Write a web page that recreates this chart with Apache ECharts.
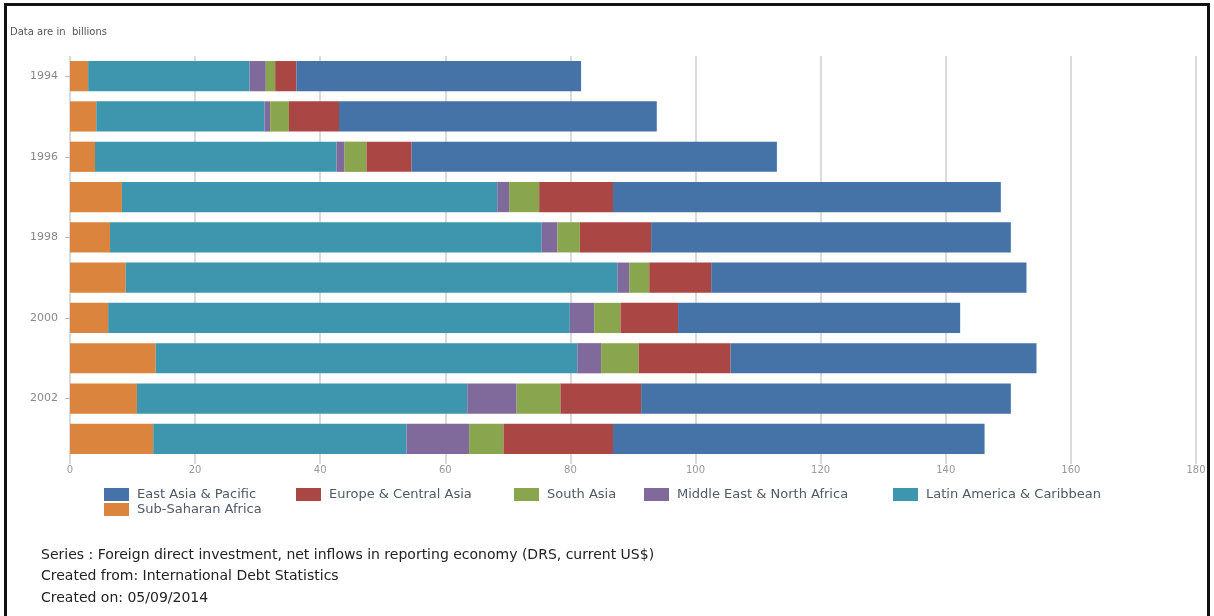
<!DOCTYPE html>
<html>
<head>
<meta charset="utf-8">
<title>Foreign direct investment, net inflows by region</title>
<script src="https://cdn.jsdelivr.net/npm/echarts@6/dist/echarts.min.js"></script>
<style>
  html, body { margin: 0; padding: 0; background: #fff; }
  #frame {
    position: absolute; left: 4px; top: 3px; width: 1206px; height: 620px;
    border: 3px solid #111; border-bottom: none; box-sizing: border-box;
  }
  #chart { position: absolute; left: 0; top: 0; width: 1214px; height: 616px; }
</style>
</head>
<body>
<div id="frame"></div>
<div id="chart"></div>
<script>
// Net FDI inflows by developing region, US$ billions
const years = ['1994', '1995', '1996', '1997', '1998', '1999', '2000', '2001', '2002', '2003'];

const eastAsiaPacific       = [45.5, 50.8, 58.4, 62.0, 57.5, 50.4, 45.1, 48.9, 59.1, 59.4];
const europeCentralAsia     = [3.4, 8.0, 7.2, 11.8, 11.4, 9.9, 9.2, 14.7, 12.9, 17.5];
const southAsia             = [1.5, 3.0, 3.5, 4.8, 3.6, 3.2, 4.2, 6.0, 7.0, 5.5];
const middleEastNorthAfrica = [2.6, 0.9, 1.3, 1.9, 2.5, 1.9, 3.9, 3.8, 7.9, 10.0];
const latinAmericaCaribbean = [25.8, 26.9, 38.6, 60.0, 69.0, 78.6, 73.8, 67.4, 52.8, 40.5];
const subSaharanAfrica      = [2.9, 4.2, 4.0, 8.3, 6.4, 8.9, 6.1, 13.7, 10.7, 13.3];

const xMin = 0, xMax = 180, xStep = 20;

const regionNames = [
  'East Asia & Pacific',
  'Europe & Central Asia',
  'South Asia',
  'Middle East & North Africa',
  'Latin America & Caribbean',
  'Sub-Saharan Africa'
];

const footerLines = [
  'Series : Foreign direct investment, net inflows in reporting economy (DRS, current US$)',
  'Created from: International Debt Statistics',
  'Created on: 05/09/2014'
];

const FONT = '"DejaVu Sans", "Liberation Sans", Arial, sans-serif';

// stacking order: left-most segment first
const stacks = [
  { name: 'Sub-Saharan Africa',         data: subSaharanAfrica,      color: '#DB843D' },
  { name: 'Latin America & Caribbean',  data: latinAmericaCaribbean, color: '#3D96AE' },
  { name: 'Middle East & North Africa', data: middleEastNorthAfrica, color: '#80699B' },
  { name: 'South Asia',                 data: southAsia,             color: '#89A54E' },
  { name: 'Europe & Central Asia',      data: europeCentralAsia,     color: '#AA4643' },
  { name: 'East Asia & Pacific',        data: eastAsiaPacific,       color: '#4572A7' }
];

// one legend block per region so each swatch sits where it belongs
const legendSpots = [
  { left: 104, top: 488 },
  { left: 296, top: 488 },
  { left: 514, top: 488 },
  { left: 644, top: 488 },
  { left: 893, top: 488 },
  { left: 104, top: 503 }
];
const legends = regionNames.map((name, i) => ({
  data: [name],
  left: legendSpots[i].left,
  top: legendSpots[i].top,
  padding: 0,
  itemWidth: 25,
  itemHeight: 13,
  icon: 'rect',
  textStyle: { fontFamily: FONT, fontSize: 13, color: '#4e5a66', padding: [0, 0, 0, 3] }
}));

const titles = [
  {
    text: 'Data are in  billions',
    left: 10, top: 27, padding: 0,
    textStyle: { fontFamily: FONT, fontSize: 10, fontWeight: 'normal', color: '#555' }
  }
].concat(footerLines.map((line, i) => ({
  text: line,
  left: 41, top: 548 + i * 21.5, padding: 0,
  textStyle: { fontFamily: FONT, fontSize: 14, fontWeight: 'normal', color: '#222' }
})));

const chart = echarts.init(document.getElementById('chart'), null, { renderer: 'canvas' });

chart.setOption({
  animation: false,
  backgroundColor: 'transparent',
  title: titles,
  legend: legends,
  grid: { left: 70, right: 18, top: 56, bottom: 157, containLabel: false },
  xAxis: {
    type: 'value',
    min: xMin, max: xMax, interval: xStep,
    axisLine: { show: false },
    axisTick: { show: true, length: 5, lineStyle: { color: '#cfcfcf', width: 1.5 } },
    splitLine: { show: true, lineStyle: { color: '#cfcfcf', width: 1.5 } },
    axisLabel: { fontFamily: FONT, fontSize: 10, color: '#999', margin: 6 }
  },
  yAxis: {
    type: 'category',
    data: years,
    inverse: true,
    axisLine: { show: false },
    axisTick: { show: true, length: 5, interval: 1, alignWithLabel: true, lineStyle: { color: '#bbb' } },
    axisLabel: { interval: 1, fontFamily: FONT, fontSize: 11, color: '#888', margin: 12 },
    splitLine: { show: false }
  },
  series: stacks.map(s => ({
    name: s.name,
    type: 'bar',
    stack: 'fdi',
    data: s.data,
    barCategoryGap: '25%',
    itemStyle: { color: s.color },
    emphasis: { disabled: true }
  }))
});
</script>
</body>
</html>
